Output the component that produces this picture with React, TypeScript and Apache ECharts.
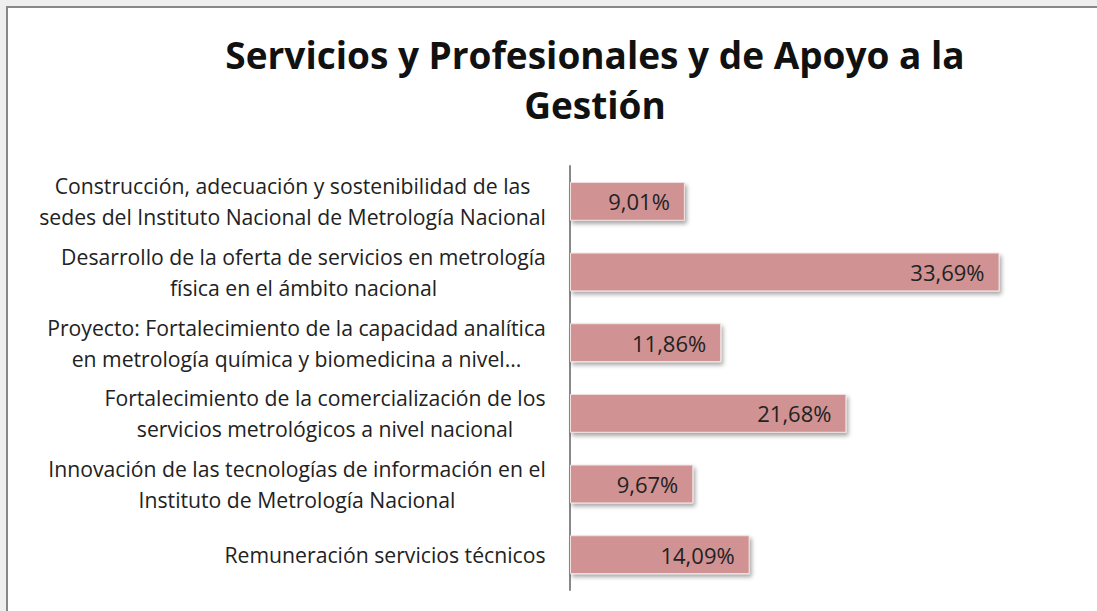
import React, { useEffect, useRef } from "react";
import * as echarts from "echarts";

const titleText = "Servicios y Profesionales y de Apoyo a la\nGestión";
const categories = [
  "Construcción, adecuación y sostenibilidad de las\nsedes del Instituto Nacional de Metrología Nacional",
  "Desarrollo de la oferta de servicios en metrología\nfísica en el ámbito nacional",
  "Proyecto: Fortalecimiento de la capacidad analítica\nen metrología química y biomedicina a nivel...",
  "Fortalecimiento de la comercialización de los\nservicios metrológicos a nivel nacional",
  "Innovación de las tecnologías de información en el\nInstituto de Metrología Nacional",
  "Remuneración servicios técnicos",
];
const values = [9.01, 33.69, 11.86, 21.68, 9.67, 14.09];

const FONT = "'Open Sans', 'Noto Sans', sans-serif";
const LABEL_SIZE = 21.2;

export default function App() {
  const ref = useRef<HTMLDivElement>(null);
  useEffect(() => {
    document.body.style.margin = "0";
    document.body.style.overflow = "hidden";
    const canvas = document.createElement("canvas");
    const ctx = canvas.getContext("2d")!;
    ctx.font = `${LABEL_SIZE}px ${FONT}`;
    const rich: Record<string, any> = {};
    categories.forEach((c, i) => {
      const w = Math.max(...c.split("\n").map((l) => ctx.measureText(l).width));
      rich["r" + i] = {
        width: Math.ceil(w) + 2,
        align: "center",
        fontFamily: FONT,
        fontSize: LABEL_SIZE,
        lineHeight: 31,
        color: "#222",
      };
    });

    const chart = echarts.init(ref.current!, null, { renderer: "svg" });
    chart.setOption({
      animation: false,
      backgroundColor: "#ffffff",
      title: {
        text: titleText,
        left: 590,
        top: 24,
        textAlign: "center",
        textStyle: {
          fontFamily: FONT,
          fontWeight: "bold",
          fontSize: 37,
          lineHeight: 50,
          color: "#111",
        },
      },
      graphic: [
        { type: "rect", shape: { x: 0, y: 0, width: 1097, height: 6 }, style: { fill: "#efefef" }, silent: true },
        { type: "rect", shape: { x: 0, y: 0, width: 6, height: 611 }, style: { fill: "#efefef" }, silent: true },
        { type: "line", shape: { x1: 6, y1: 7, x2: 1097, y2: 7 }, style: { stroke: "#888", lineWidth: 2 }, silent: true },
        { type: "line", shape: { x1: 7, y1: 6, x2: 7, y2: 611 }, style: { stroke: "#888", lineWidth: 2 }, silent: true },
      ],
      grid: { left: 570, right: 17, top: 166, bottom: 21, containLabel: false },
      xAxis: {
        type: "value",
        min: 0,
        max: 40,
        show: false,
      },
      yAxis: {
        type: "category",
        data: categories,
        inverse: true,
        axisLine: { show: true, lineStyle: { color: "#888", width: 2 } },
        axisTick: { show: false },
        axisLabel: {
          margin: 23,
          fontFamily: FONT,
          fontSize: LABEL_SIZE,
          lineHeight: 31,
          color: "#222",
          align: "right",
          formatter: (v: string, i: number) =>
            v.split("\n").map((l) => `{r${i}|${l}}`).join("\n"),
          rich,
        },
      },
      series: [
        {
          type: "bar",
          data: values,
          barCategoryGap: "45%",
          itemStyle: {
            color: "#d19293",
            borderColor: "#f3e3e3",
            borderWidth: 1,
            shadowColor: "rgba(0,0,0,0.35)",
            shadowBlur: 4,
            shadowOffsetX: 2,
            shadowOffsetY: 3,
          },
          label: {
            show: true,
            position: "insideRight",
            distance: 15,
            formatter: (p: any) => p.value.toFixed(2).replace(".", ",") + "%",
            fontFamily: FONT,
            fontSize: 22,
            color: "#222",
          },
        },
      ],
    });
    return () => chart.dispose();
  }, []);
  return <div ref={ref} style={{ width: 1097, height: 611 }} />;
}
